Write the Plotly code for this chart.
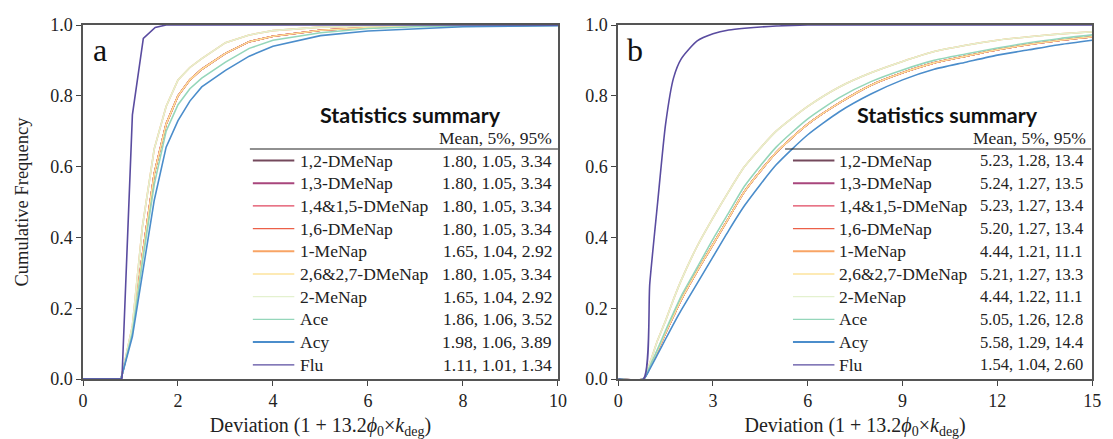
import plotly.graph_objects as go

# ---------------- data ----------------
series = ["1,2-DMeNap", "1,3-DMeNap", "1,4&1,5-DMeNap", "1,6-DMeNap", "1-MeNap",
          "2,6&2,7-DMeNap", "2-MeNap", "Ace", "Acy", "Flu"]
colors = ["#74495c", "#a8467c", "#e0465f", "#ec6048", "#f8a465",
          "#fde39c", "#e4f1cf", "#95d6ba", "#4b8dcb", "#5a4ca0"]
widths = [2.0, 2.0, 1.3, 1.3, 2.0, 1.3, 1.3, 1.3, 2.0, 1.3]

stats_a = ["1.80, 1.05, 3.34", "1.80, 1.05, 3.34", "1.80, 1.05, 3.34", "1.80, 1.05, 3.34",
           "1.65, 1.04, 2.92", "1.80, 1.05, 3.34", "1.65, 1.04, 2.92", "1.86, 1.06, 3.52",
           "1.98, 1.06, 3.89", "1.11, 1.01, 1.34"]
stats_b = ["5.23, 1.28, 13.4", "5.24, 1.27, 13.5", "5.23, 1.27, 13.4", "5.20, 1.27, 13.4",
           "4.44, 1.21, 11.1", "5.21, 1.27, 13.3", "4.44, 1.22, 11.1", "5.05, 1.26, 12.8",
           "5.58, 1.29, 14.4", "1.54, 1.04, 2.60"]

# panel a
xa = [0, 0.8, 1.04, 1.25, 1.5, 1.75, 2.0, 2.25, 2.5, 3.0, 3.5, 4.0, 5.0, 6.0, 7.0, 8.0, 10.0]
ya_dmenap = [0, 0, 0.135, 0.35, 0.58, 0.72, 0.80, 0.845, 0.875, 0.92, 0.953, 0.968, 0.985, 0.993, 0.997, 0.998, 1.0]
ya_menap = [0, 0, 0.15, 0.43, 0.65, 0.77, 0.845, 0.88, 0.905, 0.95, 0.972, 0.984, 0.994, 0.998, 1.0, 1.0, 1.0]
ya_ace = [0, 0, 0.13, 0.33, 0.55, 0.70, 0.775, 0.82, 0.85, 0.895, 0.934, 0.957, 0.978, 0.99, 0.995, 0.997, 0.999]
ya_acy = [0, 0, 0.12, 0.30, 0.505, 0.655, 0.73, 0.785, 0.825, 0.872, 0.912, 0.94, 0.97, 0.983, 0.99, 0.995, 0.998]
xa_flu = [0, 0.82, 1.04, 1.27, 1.52, 1.75, 10.0]
ya_flu = [0, 0, 0.746, 0.962, 0.993, 1.0, 1.0]

# panel b
xb = [0, 0.8, 1.0, 1.25, 1.5, 1.75, 2.0, 2.5, 3.0, 3.5, 4.0, 5.0, 6.0, 7.0, 8.0, 9.0, 10.0, 11.0, 12.0, 13.0, 14.0, 15.0]
yb_menap = [0, 0, 0.045, 0.11, 0.165, 0.225, 0.28, 0.375, 0.455, 0.53, 0.60, 0.70, 0.77, 0.825, 0.865, 0.897, 0.925, 0.943, 0.957, 0.967, 0.975, 0.981]
yb_dmenap = [0, 0, 0.032, 0.08, 0.13, 0.178, 0.225, 0.305, 0.38, 0.455, 0.53, 0.64, 0.72, 0.78, 0.83, 0.865, 0.893, 0.912, 0.93, 0.945, 0.957, 0.967]
yb_ace = [0, 0, 0.035, 0.085, 0.137, 0.187, 0.235, 0.315, 0.395, 0.47, 0.545, 0.655, 0.735, 0.795, 0.84, 0.873, 0.90, 0.918, 0.935, 0.95, 0.962, 0.972]
yb_acy = [0, 0, 0.028, 0.07, 0.113, 0.155, 0.195, 0.27, 0.345, 0.42, 0.49, 0.605, 0.69, 0.755, 0.805, 0.845, 0.875, 0.895, 0.915, 0.93, 0.945, 0.957]
xb_flu = [0, 0.8, 1.0, 1.25, 1.5, 1.75, 2.0, 2.5, 3.0, 3.5, 4.0, 5.0, 6.0, 15.0]
yb_flu = [0, 0, 0.27, 0.50, 0.72, 0.85, 0.905, 0.955, 0.975, 0.986, 0.991, 0.997, 1.0, 1.0]

curves_a = [(xa, ya_dmenap), (xa, ya_dmenap), (xa, ya_dmenap), (xa, ya_dmenap), (xa, ya_menap),
            (xa, ya_dmenap), (xa, ya_menap), (xa, ya_ace), (xa, ya_acy), (xa_flu, ya_flu)]
curves_b = [(xb, yb_dmenap), (xb, yb_dmenap), (xb, yb_dmenap), (xb, yb_dmenap), (xb, yb_menap),
            (xb, yb_dmenap), (xb, yb_menap), (xb, yb_ace), (xb, yb_acy), (xb_flu, yb_flu)]

# ---------------- figure ----------------
W, H = 1113, 439
MT, MB = 25, 60
PH = H - MT - MB
SERIF = "Liberation Serif"

fig = go.Figure()
for i, name in enumerate(series):
    x, y = curves_a[i]
    fig.add_trace(go.Scatter(x=x, y=y, mode="lines", name=name, showlegend=False,
                             line=dict(color=colors[i], width=1.6), xaxis="x", yaxis="y"))
for i, name in enumerate(series):
    x, y = curves_b[i]
    fig.add_trace(go.Scatter(x=x, y=y, mode="lines", name=name, showlegend=False,
                             line=dict(color=colors[i], width=1.6, shape="spline", smoothing=0.6),
                             xaxis="x2", yaxis="y2"))

def px(x):
    return x / W

def py(y):
    return (H - MB - y) / PH

axis_common = dict(showline=True, linecolor="#555", linewidth=1.5, mirror=True,
                   ticks="outside", ticklen=5, tickcolor="#444", tickwidth=1,
                   showgrid=False, zeroline=False,
                   tickfont=dict(family=SERIF, size=18, color="#222"))

xtitle = "Deviation (1 + 13.2<i>ϕ</i><sub>0</sub>×<i>k</i><sub>deg</sub>)"

fig.update_layout(
    width=W, height=H,
    margin=dict(l=0, r=0, t=MT, b=MB),
    paper_bgcolor="white", plot_bgcolor="white",
    xaxis=dict(domain=[px(79), px(560)], range=[0, 10], dtick=2, anchor="y",
               title=dict(text=xtitle, font=dict(family=SERIF, size=20, color="#222"), standoff=8),
               **axis_common),
    yaxis=dict(domain=[0, 1], range=[0, 1], dtick=0.2, tickformat=".1f", anchor="x",
               title=dict(text="Cumulative Frequency", font=dict(family=SERIF, size=18.5, color="#222"), standoff=17),
               **axis_common),
    xaxis2=dict(domain=[px(621), px(1101)], range=[0, 15], dtick=3, anchor="y2",
                title=dict(text=xtitle, font=dict(family=SERIF, size=20, color="#222"), standoff=8),
                **axis_common),
    yaxis2=dict(domain=[0, 1], range=[0, 1], dtick=0.2, tickformat=".1f", anchor="x2",
                **axis_common),
)

annotations = []
shapes = []

# panel letters
annotations.append(dict(text="a", x=px(96), y=py(50), xref="paper", yref="paper", showarrow=False,
                        font=dict(family=SERIF, size=32, color="#111"), xanchor="center", yanchor="middle"))
annotations.append(dict(text="b", x=px(638), y=py(50), xref="paper", yref="paper", showarrow=False,
                        font=dict(family=SERIF, size=32, color="#111"), xanchor="center", yanchor="middle"))

tables = [
    dict(stats=stats_a, title_x=411, head_right=556, rule_x0=248, rule_x1=560,
         line_x0=251, line_x1=293, label_x=297, val_right=556, val_size=17.5),
    dict(stats=stats_b, title_x=955, head_right=1097, rule_x0=790, rule_x1=1100,
         line_x0=798, line_x1=840, label_x=843, val_right=1094, val_size=16.5),
]
row_y0 = 160.5
row_dy = 22.7
for t in tables:
    annotations.append(dict(text="<b>Statistics summary</b>", x=px(t["title_x"]), y=py(115),
                            xref="paper", yref="paper", showarrow=False, xanchor="center", yanchor="middle",
                            font=dict(family="Lato", size=21.5, color="#111")))
    annotations.append(dict(text="Mean, 5%, 95%", x=px(t["head_right"]), y=py(138),
                            xref="paper", yref="paper", showarrow=False, xanchor="right", yanchor="middle",
                            font=dict(family=SERIF, size=17.5, color="#222")))
    shapes.append(dict(type="line", xref="paper", yref="paper", x0=px(t["rule_x0"]), x1=px(t["rule_x1"]),
                       y0=py(149), y1=py(149), line=dict(color="#222", width=1.2)))
    for i, name in enumerate(series):
        yy = row_y0 + i * row_dy
        shapes.append(dict(type="line", xref="paper", yref="paper", x0=px(t["line_x0"]), x1=px(t["line_x1"]),
                           y0=py(yy), y1=py(yy), line=dict(color=colors[i], width=widths[i])))
        annotations.append(dict(text=name, x=px(t["label_x"]), y=py(yy), xref="paper", yref="paper",
                                showarrow=False, xanchor="left", yanchor="middle",
                                font=dict(family=SERIF, size=17.5, color="#222")))
        annotations.append(dict(text=t["stats"][i], x=px(t["val_right"]), y=py(yy), xref="paper", yref="paper",
                                showarrow=False, xanchor="right", yanchor="middle",
                                font=dict(family=SERIF, size=t["val_size"], color="#222")))

fig.update_layout(annotations=annotations, shapes=shapes)
fig.write_html("out.html", config={"displayModeBar": False},
               post_script="document.body.style.margin='0';document.body.style.overflow='hidden';")
